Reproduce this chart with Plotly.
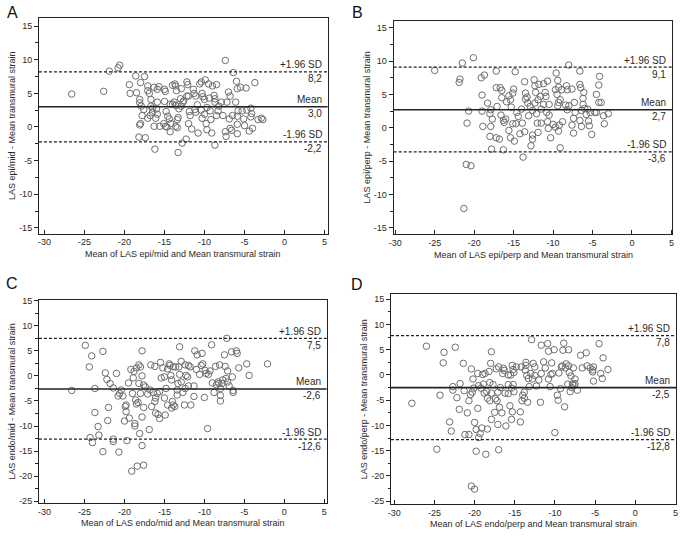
import plotly.graph_objects as go

# ---------------- data ----------------
a_x = [-26.6,-22.6,-21.9,-20.8,-20.6,-19.4,-19.3,-18.6,-18.5,-18.0,-18.1,-18.1,-17.9,-17.8,-18.0,-18.1,-18.2,-17.5,-17.6,-17.4,
       -17.1,-17.1,-16.9,-16.7,-17.1,-16.8,-16.5,-16.3,-16.1,-16.3,-16.2,-15.9,-15.7,-16.0,-15.9,-15.9,-15.0,-14.9,-15.0,-14.8,
       -15.1,-14.9,-14.7,-14.6,-14.4,-14.3,-14.0,-14.2,-14.0,-13.7,-13.6,-13.5,-13.8,-13.6,-13.6,-13.4,-13.4,-13.3,-13.3,-12.9,
       -13.0,-12.7,-12.9,-12.8,-12.3,-12.2,-12.1,-12.2,-12.0,-11.9,-12.0,-11.8,-11.6,-11.4,-11.3,-11.1,-11.2,-11.1,-10.8,-10.6,
       -10.4,-10.3,-10.2,-10.4,-10.0,-10.0,-9.9,-9.8,-9.7,-9.7,-9.5,-9.4,-9.3,-9.2,-9.1,-9.0,-8.8,-8.7,-8.7,-8.7,
       -8.5,-8.5,-8.3,-8.2,-7.4,-7.4,-7.3,-7.2,-7.0,-6.8,-6.8,-6.6,-6.9,-6.5,-6.4,-6.1,-6.0,-5.9,-5.8,-5.9,
       -5.9,-5.9,-5.5,-5.3,-5.1,-5.0,-4.8,-4.7,-4.4,-4.2,-4.2,-4.1,-4.0,-3.7,-3.3,-2.9,-2.7,-16.7,-16.5,-13.2,
       -12.6,-10.9,-10.3,-7.9,-7.7,-14.3,-15.6]
a_y = [4.9,5.3,8.3,8.8,9.2,6.3,5.0,7.6,5.1,6.6,4.1,3.6,3.1,1.7,0.5,0.3,-1.5,7.5,2.6,-1.6,
       6.1,5.4,5.0,4.1,1.3,1.7,2.2,5.9,1.3,0.1,-3.3,5.6,6.0,2.7,1.9,3.7,5.6,5.3,3.8,2.3,
       0.5,0.1,0.0,1.6,1.2,3.4,3.4,0.5,6.2,6.4,6.1,5.4,3.7,3.2,0.1,-0.1,1.1,1.4,-3.8,5.7,
       4.2,3.7,3.1,-2.4,-1.8,6.7,6.3,4.6,4.6,2.3,0.5,1.7,-0.3,5.6,5.0,4.6,2.6,2.2,-0.9,6.4,
       6.7,5.0,4.5,2.5,4.1,1.9,7.0,0.5,-0.4,2.9,6.4,4.3,2.4,1.1,-0.9,6.1,4.7,4.2,3.7,-2.7,
       6.3,1.7,2.4,3.1,9.9,-0.7,-1.4,3.7,5.2,4.6,-0.2,-0.5,1.2,1.7,8.1,3.7,6.8,5.7,2.4,1.6,
       0.4,-1.0,5.9,2.4,1.2,0.2,5.8,2.5,-0.6,2.8,1.5,2.0,-0.2,6.6,1.1,1.3,1.1,3.1,2.8,2.7,
       3.9,3.3,1.3,3.7,1.7,-0.7,0.1]

b_x = [-25.0,-21.5,-21.8,-21.9,-20.1,-20.7,-20.9,-21.0,-20.4,-21.3,-19.1,-18.7,-19.0,-19.0,-18.9,-18.3,-18.0,-17.9,-17.9,-18.0,
       -17.8,-17.7,-17.2,-17.2,-17.1,-17.2,-16.8,-16.7,-16.5,-16.5,-16.6,-16.3,-16.3,-16.2,-16.0,-15.9,-15.6,-15.4,-15.3,-15.6,
       -15.4,-15.0,-15.1,-14.8,-14.9,-15.1,-14.7,-14.6,-14.4,-14.2,-14.0,-13.9,-13.8,-13.6,-13.5,-13.5,-13.6,-13.3,-13.2,-13.1,
       -12.9,-12.8,-12.6,-12.6,-12.6,-12.4,-12.3,-12.3,-12.2,-12.1,-12.0,-11.9,-11.8,-11.9,-11.6,-11.5,-11.5,-11.2,-11.2,-11.0,
       -10.9,-10.8,-10.7,-10.7,-10.6,-10.5,-10.5,-10.3,-10.0,-9.7,-9.7,-9.6,-9.5,-9.4,-9.4,-9.3,-9.3,-9.2,-9.3,-9.1,
       -9.1,-8.9,-8.8,-8.3,-8.2,-8.0,-8.0,-8.2,-8.4,-7.6,-7.6,-7.4,-7.4,-7.2,-7.3,-6.6,-6.6,-6.5,-6.6,-6.4,
       -6.2,-6.2,-6.1,-6.4,-5.8,-6.0,-5.6,-5.5,-5.4,-5.3,-5.1,-4.7,-4.5,-4.1,-4.2,-4.5,-4.2,-3.9,-3.6,-3.5,
       -3.0]
b_y = [8.6,9.7,7.3,6.8,10.5,2.5,0.7,-5.5,-5.7,-12.1,7.5,7.9,4.9,2.5,0.2,3.7,2.1,2.7,0.2,-1.3,
       -3.2,1.3,8.5,6.0,3.2,-1.5,-1.7,6.0,5.6,4.5,1.9,1.1,-3.3,0.8,1.3,3.9,4.8,4.2,3.1,-0.4,
       -1.5,5.8,5.2,8.4,-2.0,0.6,0.6,2.3,1.7,-0.9,2.8,0.7,-4.4,6.9,5.2,4.3,-0.6,4.6,3.7,1.8,
       3.2,-2.7,-1.7,-1.1,2.6,7.2,6.3,3.7,5.3,2.1,0.7,-0.7,6.5,4.2,4.7,0.7,2.8,3.5,6.6,5.3,
       4.7,2.3,7.0,0.9,-0.1,3.5,1.9,-1.5,0.5,0.1,5.7,8.2,5.0,7.1,3.3,3.8,6.1,0.4,-0.5,4.2,
       -3.0,5.7,0.9,6.3,5.7,9.4,3.3,2.7,3.4,5.8,0.4,1.4,-0.8,2.3,3.8,8.5,6.5,6.0,1.1,0.2,
       4.4,3.5,5.3,2.6,2.0,2.9,2.8,1.0,0.3,2.3,-1.0,2.3,5.0,7.7,6.4,2.3,3.8,3.8,1.8,0.6,
       2.1]

c_x = [-26.6,-24.9,-24.1,-24.4,-24.3,-24.0,-23.7,-23.7,-23.3,-23.2,-22.7,-22.7,-22.4,-22.2,-22.1,-22.0,-21.8,-21.4,-21.4,-21.4,
       -21.0,-20.8,-20.7,-20.6,-20.4,-20.2,-20.0,-19.9,-19.8,-19.8,-19.7,-19.5,-19.4,-19.2,-19.1,-19.0,-18.9,-18.8,-18.7,-18.7,
       -18.6,-18.5,-18.5,-18.4,-18.3,-18.2,-18.2,-18.1,-18.0,-18.0,-17.8,-17.8,-17.8,-17.8,-17.6,-17.6,-17.6,-17.4,-17.1,-16.9,
       -16.8,-16.7,-16.6,-16.4,-16.2,-16.2,-16.1,-16.1,-15.9,-15.8,-15.6,-15.6,-15.5,-15.4,-15.2,-15.0,-15.0,-14.9,-14.8,-14.6,
       -14.6,-14.4,-14.3,-14.2,-14.1,-14.1,-14.0,-13.9,-13.9,-13.7,-13.6,-13.4,-13.4,-13.3,-13.2,-13.1,-13.1,-12.9,-12.9,-12.7,
       -12.5,-12.4,-12.4,-12.3,-12.1,-12.0,-12.0,-11.8,-11.7,-11.3,-11.3,-11.2,-11.0,-10.9,-10.6,-10.4,-10.3,-10.2,-10.0,-9.9,
       -9.8,-9.5,-9.6,-9.3,-9.1,-9.0,-8.8,-8.6,-8.5,-8.3,-8.2,-8.1,-8.0,-8.0,-8.0,-7.8,-7.7,-7.5,-7.4,-7.3,
       -7.2,-7.1,-7.1,-6.9,-6.6,-6.5,-6.4,-6.4,-6.0,-5.9,-5.7,-4.7,-4.4,-2.1]
c_y = [-2.9,6.1,4.0,1.8,-12.3,-13.3,-2.5,-7.3,-10.1,-11.8,4.9,-15.1,0.6,-0.7,-8.9,-6.3,-1.5,-2.4,-12.6,-13.1,
       0.5,-4.0,-15.2,-3.5,-2.8,-4.0,-9.0,-6.1,-5.8,-7.1,-12.9,-1.4,-8.4,1.3,-19.0,-3.5,-0.4,0.9,-9.5,-10.0,
       -4.8,-5.6,1.6,-18.0,-5.3,-1.5,2.2,-11.5,-3.5,1.8,-13.9,5.0,-8.2,0.0,-17.8,-1.8,-6.3,-2.2,-3.6,-10.7,
       -2.8,2.2,-6.1,-3.3,1.9,-5.1,-7.4,-4.4,-3.5,-7.7,-8.5,-3.1,2.7,-0.4,1.6,-0.2,-4.4,-7.8,-2.5,-5.8,
       1.4,2.4,2.1,0.1,-0.8,-6.4,-5.1,-5.8,1.8,-6.1,1.8,-3.8,-2.8,-1.5,1.8,5.8,0.3,2.9,-1.2,-3.3,
       -5.8,-2.5,2.2,0.1,-0.2,-2.0,2.1,1.8,-5.8,-4.1,-2.0,5.0,1.3,4.2,0.3,2.1,4.5,2.4,-4.3,1.1,
       0.5,0.3,-10.5,1.0,6.2,-1.4,-3.3,1.9,-1.8,-1.2,-1.5,2.2,-2.5,-3.9,-5.0,-1.5,-0.8,4.2,1.9,-0.5,
       7.5,-1.2,1.0,-2.0,4.8,-0.2,-2.9,-3.3,5.0,4.5,1.6,2.4,0.1,2.4]

d_x = [-27.8,-26.0,-24.7,-24.3,-23.8,-23.9,-23.1,-22.9,-22.7,-22.7,-22.2,-22.4,-21.9,-21.8,-21.4,-21.3,-21.2,-20.9,-20.7,-20.7,
       -20.5,-20.4,-20.3,-20.2,-20.1,-20.4,-20.0,-20.0,-19.8,-19.8,-19.6,-19.6,-19.5,-19.5,-19.3,-19.2,-19.1,-19.0,-18.9,-18.8,
       -18.7,-18.6,-18.5,-18.4,-18.4,-18.2,-18.1,-18.1,-18.0,-17.9,-17.9,-17.9,-17.7,-17.5,-17.4,-17.3,-17.2,-17.1,-17.1,-17.0,
       -17.0,-16.9,-16.8,-16.6,-16.5,-16.4,-16.3,-16.2,-16.1,-15.8,-15.8,-15.8,-15.6,-15.5,-15.4,-15.4,-15.3,-15.3,-15.2,-15.2,
       -15.1,-15.1,-14.8,-14.3,-14.3,-14.2,-14.1,-14.0,-13.8,-13.8,-13.7,-13.6,-13.6,-13.5,-13.4,-13.3,-13.2,-13.0,-12.9,-12.8,
       -12.7,-12.5,-12.5,-12.3,-12.0,-11.8,-11.7,-11.7,-11.4,-11.2,-10.9,-10.8,-10.8,-10.6,-10.5,-10.4,-10.3,-10.1,-10.0,-9.7,
       -9.6,-9.5,-9.3,-9.2,-9.1,-9.0,-8.9,-8.8,-8.7,-8.6,-8.4,-8.3,-8.3,-8.2,-8.1,-8.0,-7.9,-7.8,-7.7,-7.6,
       -7.5,-7.5,-7.2,-6.8,-6.6,-6.1,-6.0,-5.6,-5.3,-5.3,-5.2,-5.2,-4.5,-4.3,-4.1,-4.0,-3.4]
d_y = [-5.6,5.7,-14.7,-4.0,4.5,2.4,-9.3,-11.1,-2.3,-3.0,-4.5,5.5,-6.8,-1.7,2.3,-3.1,-11.8,-7.5,-11.8,-5.1,
       -3.9,1.2,-3.4,-0.8,-2.6,-22.0,-22.6,-9.4,-15.1,-10.8,-6.6,0.3,-2.1,-12.4,-11.6,-2.6,-10.5,0.1,-1.8,-3.6,
       0.3,-15.7,-3.3,-10.7,-4.6,0.7,-5.1,-1.5,2.3,-3.6,-8.8,4.6,-1.9,-7.4,-4.7,1.2,-5.1,-9.8,-3.4,1.6,
       -14.8,-6.4,-2.5,-7.5,0.3,1.3,0.9,-3.6,-10.1,0.0,-1.9,-3.7,-6.1,0.0,-2.6,-8.8,1.9,-7.3,1.1,-1.9,
       -3.3,0.5,1.6,-7.3,-9.3,1.6,-5.1,-4.0,-4.6,-3.4,1.0,2.5,1.9,-0.1,-5.4,-0.7,-2.3,0.3,7.0,-0.8,
       2.3,1.6,-0.1,-2.2,-1.0,-5.4,0.3,5.9,2.6,1.4,6.2,-0.8,4.7,-2.3,0.1,2.4,0.3,5.0,-11.4,-4.0,
       -5.0,0.4,-2.7,1.6,1.8,4.9,6.3,-6.3,1.4,2.2,-1.8,1.8,5.0,0.5,-3.3,-0.2,-2.5,-1.8,1.4,-2.1,
       -0.8,-1.7,-3.0,3.9,1.4,4.4,1.8,1.4,0.6,1.0,-1.2,1.6,6.2,0.3,-0.7,3.4,1.1]

# limits of agreement: upper, mean, lower
a_lines = [8.2, 3.0, -2.2]
b_lines = [9.1, 2.7, -3.6]
c_lines = [7.5, -2.6, -12.6]
d_lines = [7.8, -2.5, -12.8]
line_labels = ["+1.96 SD", "Mean", "-1.96 SD"]

panel_letters = ["A", "B", "C", "D"]
x_titles = ["Mean of LAS epi/mid and Mean transmural strain",
            "Mean of LAS epi/perp and Mean transmural strain",
            "Mean of LAS endo/mid and Mean transmural strain",
            "Mean of LAS endo/perp and Mean transmural strain"]
y_titles = ["LAS epi/mid - Mean transmural strain",
            "LAS epi/perp - Mean transmural strain",
            "LAS endo/mid - Mean transmural strain",
            "LAS endo/perp - Mean transmural strain"]
x_ticks = [-30, -25, -20, -15, -10, -5, 0, 5]
y_ticks_top = [-15, -10, -5, 0, 5, 10, 15]
y_ticks_bot = [-25, -20, -15, -10, -5, 0, 5, 10, 15]

# ---------------- layout geometry (pixels) ----------------
W, H = 685, 537
# frame boxes: left, right, top, bottom (px) ; axis ranges
panels = [
    dict(box=(34.3, 326.0, 14.3, 233.0), xr=[-30.7, 5.4], yr=[-15.85, 16.2], yt=y_ticks_top,
         xs=a_x, ys=a_y, lines=a_lines, letter_pos=(8, 9)),
    dict(box=(392.7, 674.3, 17.3, 233.3), xr=[-30.2, 5.13], yr=[-15.9, 16.0], yt=y_ticks_top,
         xs=b_x, ys=b_y, lines=b_lines, letter_pos=(356, 9)),
    dict(box=(34.3, 325.0, 300.7, 506.3), xr=[-30.7, 5.3], yr=[-25.3, 15.1], yt=y_ticks_bot,
         xs=c_x, ys=c_y, lines=c_lines, letter_pos=(7, 284)),
    dict(box=(390.0, 678.3, 294.7, 507.3), xr=[-30.4, 5.12], yr=[-25.5, 15.98], yt=y_ticks_bot,
         xs=d_x, ys=d_y, lines=d_lines, letter_pos=(356, 285)),
]

FONT = "Liberation Sans, Arial, sans-serif"
TXT = "#2a2a2a"

fig = go.Figure()
annotations = []
shapes = []
layout_axes = {}

def fmt(v):
    return f"{v:.1f}".replace(".", ",")

for i, p in enumerate(panels):
    n = "" if i == 0 else str(i + 1)
    xa, ya = "x" + n, "y" + n
    l, r, t, b = p["box"]
    xdom = [l / W, r / W]
    ydom = [1 - b / H, 1 - t / H]

    fig.add_trace(go.Scatter(
        x=p["xs"], y=p["ys"], mode="markers", xaxis=xa, yaxis=ya,
        marker=dict(symbol="circle-open", size=6.5, color="#6e6e6e", line=dict(width=1, color="#6e6e6e")),
        showlegend=False, hoverinfo="x+y"))

    layout_axes["xaxis" + n] = dict(
        domain=xdom, range=p["xr"], anchor=ya, tickvals=x_ticks,
        ticktext=[str(v) for v in x_ticks], ticks="inside", ticklen=4, tickcolor="#222",
        showline=True, mirror=True, linecolor="#222", linewidth=1, showgrid=False, zeroline=False,
        tickfont=dict(family=FONT, size=9, color=TXT), fixedrange=True)
    layout_axes["yaxis" + n] = dict(
        domain=ydom, range=p["yr"], anchor=xa, tickvals=p["yt"],
        ticktext=[str(v) for v in p["yt"]], ticks="outside", ticklen=4, tickcolor="#222",
        minor=dict(dtick=2.5, tick0=0, ticks="outside", ticklen=2.5, tickcolor="#222"),
        showline=True, mirror=True, linecolor="#222", linewidth=1, showgrid=False, zeroline=False,
        tickfont=dict(family=FONT, size=9, color=TXT), fixedrange=True)

    # limit / mean lines
    for k, val in enumerate(p["lines"]):
        shapes.append(dict(
            type="line", xref=f"{xa} domain", yref=ya, x0=0, x1=1, y0=val, y1=val,
            line=dict(color="#222", width=1.6 if k == 1 else 1.3, dash="solid" if k == 1 else "3px,2px")))
        annotations.append(dict(
            xref=f"{xa} domain", yref=ya, x=1, y=val, xanchor="right", yanchor="middle",
            xshift=-4, yshift=7, text=line_labels[k], showarrow=False,
            font=dict(family=FONT, size=10, color=TXT)))
        annotations.append(dict(
            xref=f"{xa} domain", yref=ya, x=1, y=val, xanchor="right", yanchor="middle",
            xshift=-4, yshift=-7, text=fmt(val), showarrow=False,
            font=dict(family=FONT, size=10, color=TXT)))

    # axis titles
    annotations.append(dict(
        xref="paper", yref="paper", x=(l + r) / 2 / W, y=1 - (b + 21) / H,
        xanchor="center", yanchor="middle", text=x_titles[i], showarrow=False,
        font=dict(family=FONT, size=9, color=TXT)))
    annotations.append(dict(
        xref="paper", yref="paper", x=(l - 27) / W, y=1 - (t + b) / 2 / H,
        xanchor="center", yanchor="middle", text=y_titles[i], textangle=-90, showarrow=False,
        font=dict(family=FONT, size=9, color=TXT)))
    # panel letter
    lx, ly = p["letter_pos"]
    annotations.append(dict(
        xref="paper", yref="paper", x=lx / W, y=1 - ly / H, xanchor="center", yanchor="middle",
        text=panel_letters[i], showarrow=False, font=dict(family=FONT, size=16, color="#111")))

fig.update_layout(
    width=W, height=H, margin=dict(l=0, r=0, t=0, b=0),
    paper_bgcolor="white", plot_bgcolor="white",
    annotations=annotations, shapes=shapes, **layout_axes)

fig.write_html("out.html", config={"displayModeBar": False},
               post_script="document.body.style.margin='0';")
